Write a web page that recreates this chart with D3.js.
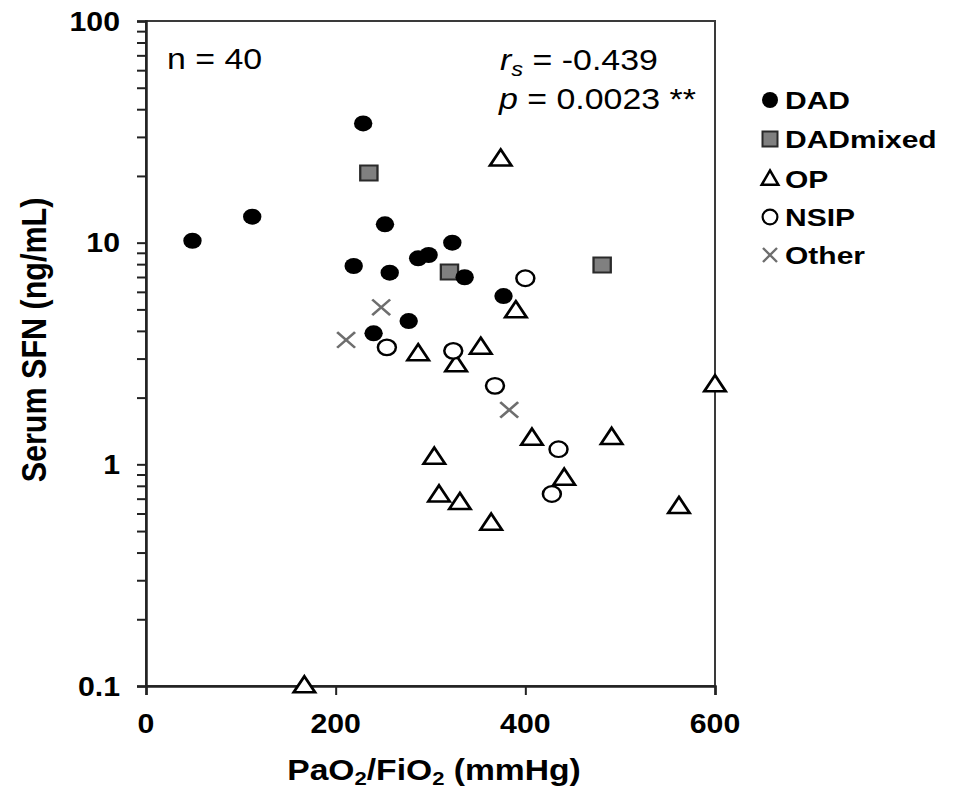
<!DOCTYPE html>
<html>
<head>
<meta charset="utf-8">
<script src="https://cdn.jsdelivr.net/npm/d3@7"></script>
<style>
  html, body { margin: 0; padding: 0; background: #fff; }
  svg { display: block; }
  text { font-family: "Liberation Sans", Arial, sans-serif; fill: #000; }
</style>
</head>
<body>
<svg id="chart" width="955" height="792"></svg>
<script>
// ---- data ----
const dadX = [49, 112, 229, 252, 323, 219, 257, 287, 298, 336, 377, 277, 240];
const dadY = [10.2, 13.1, 34.5, 12.1, 10.0, 7.85, 7.32, 8.5, 8.8, 6.98, 5.74, 4.43, 3.9];
const dadMixedX = [235, 320, 481];
const dadMixedY = [20.6, 7.38, 7.93];
const opX = [374, 390, 287, 353, 327, 600, 407, 491, 304, 441, 309, 331, 562, 364, 167];
const opY = [23.8, 4.92, 3.15, 3.37, 2.81, 2.28, 1.31, 1.32, 1.076, 0.865, 0.727, 0.671, 0.644, 0.542, 0.1];
const nsipX = [400, 254, 324, 368, 435, 428];
const nsipY = [6.91, 3.37, 3.25, 2.26, 1.17, 0.735];
const otherX = [248, 211, 383];
const otherY = [5.11, 3.64, 1.76];

const xTicks = [0, 200, 400, 600];
const yTicks = [0.1, 1, 10, 100];
const yTickLabels = ["0.1", "1", "10", "100"];
const legendNames = ["DAD", "DADmixed", "OP", "NSIP", "Other"];

// ---- layout ----
const svg = d3.select("#chart");
const L = 146, R = 715, T = 21, B = 686;
const SX = 1.15; // horizontal stretch of the original image

const x = d3.scaleLinear().domain([0, 600]).range([L, R]);
const y = d3.scaleLog().domain([0.1, 100]).range([B, T]);

function stext(parent, tx, ty, sx, opts) {
  const g = parent.append("g").attr("transform", `translate(${tx},${ty}) scale(${sx},1)${opts.rotate ? " rotate(" + opts.rotate + ")" : ""}`);
  const t = g.append("text")
    .attr("x", 0).attr("y", 0)
    .attr("font-size", opts.size)
    .attr("font-weight", opts.weight || "normal")
    .attr("text-anchor", opts.anchor || "start");
  if (opts.dy) t.attr("dy", opts.dy);
  return t;
}

// frame
svg.append("rect")
  .attr("x", L).attr("y", T).attr("width", R - L).attr("height", B - T)
  .attr("fill", "none").attr("stroke", "#3a3a3a").attr("stroke-width", 2);

// y axis with log minor ticks
const yMinor = [];
[0.1, 1, 10].forEach(d => { for (let k = 2; k <= 9; k++) yMinor.push(d * k); });
const yAxis = d3.axisLeft(y).tickValues(yTicks.concat(yMinor)).tickSize(9).tickFormat("");
const gy = svg.append("g").attr("transform", `translate(${L},0)`).call(yAxis);
gy.select(".domain").attr("stroke", "#222").attr("stroke-width", 2.5);
gy.selectAll(".tick line").attr("stroke", "#222").attr("stroke-width", 2);

yTicks.forEach((v, i) => {
  stext(svg, 120, y(v), 1.08, {size: 28, weight: "bold", anchor: "end", dy: "0.35em"}).text(yTickLabels[i]);
});

// x axis
const xAxis = d3.axisBottom(x).tickValues(xTicks).tickSize(9).tickFormat("");
const gx = svg.append("g").attr("transform", `translate(0,${B})`).call(xAxis);
gx.select(".domain").attr("stroke", "#222").attr("stroke-width", 2.5);
gx.selectAll(".tick line").attr("stroke", "#222").attr("stroke-width", 2);
xTicks.forEach(v => {
  stext(svg, x(v), 733, 1.08, {size: 28, weight: "bold", anchor: "middle"}).text(String(v));
});

// axis titles
const xt = stext(svg, 434, 780, 1.16, {size: 29, weight: "bold", anchor: "middle"});
xt.append("tspan").text("PaO");
xt.append("tspan").attr("font-size", 19).attr("dy", 5).text("2");
xt.append("tspan").attr("dy", -5).text("/FiO");
xt.append("tspan").attr("font-size", 19).attr("dy", 5).text("2");
xt.append("tspan").attr("dy", -5).text(" (mmHg)");

stext(svg, 46, 340, SX, {size: 30.5, weight: "bold", anchor: "middle", rotate: -90}).text("Serum SFN (ng/mL)");

// annotations
stext(svg, 167, 69, 1.13, {size: 30}).text("n = 40");
const rs = stext(svg, 500, 70, 1.13, {size: 30});
rs.append("tspan").attr("font-style", "italic").text("r");
rs.append("tspan").attr("font-style", "italic").attr("font-size", 21).attr("dy", 6).text("s");
rs.append("tspan").attr("dy", -6).text(" = -0.439");
const pv = stext(svg, 499, 109, 1.13, {size: 30});
pv.append("tspan").attr("font-style", "italic").text("p");
pv.append("tspan").text(" = 0.0023 **");

// ---- markers ----
const sym = {
  DAD: {type: d3.symbolCircle, size: Math.PI * 8 * 8, fill: "#000", stroke: "#000", sw: 0},
  DADmixed: {type: d3.symbolSquare, size: 15 * 15, fill: "#808080", stroke: "#2a2a2a", sw: 2},
  OP: {type: d3.symbolTriangle, size: 150, fill: "#fff", stroke: "#000", sw: 2.5},
  NSIP: {type: d3.symbolCircle, size: Math.PI * 7.8 * 7.8, fill: "#fff", stroke: "#000", sw: 2.2},
  Other: {type: d3.symbolX, size: 160, fill: "none", stroke: "#6e6e6e", sw: 2.4}
};

function drawSeries(name, xs, ys) {
  const s = sym[name];
  const pts = xs.map((v, i) => ({x: v, y: ys[i]}));
  const gen = d3.symbol().type(s.type).size(s.size);
  svg.append("g").attr("class", "series-" + name)
    .selectAll("path").data(pts).join("path")
    .attr("d", gen)
    .attr("transform", d => `translate(${x(d.x)},${y(d.y)}) scale(${SX},1)${name === "OP" ? " translate(0,1)" : ""}`)
    .attr("fill", s.fill)
    .attr("stroke", s.stroke)
    .attr("stroke-width", s.sw)
    .attr("stroke-linejoin", "miter");
}

drawSeries("DADmixed", dadMixedX, dadMixedY);
drawSeries("DAD", dadX, dadY);
drawSeries("OP", opX, opY);
drawSeries("NSIP", nsipX, nsipY);
drawSeries("Other", otherX, otherY);

// ---- legend ----
const legY = [100, 139, 179, 217, 255];
const legSize = {DAD: Math.PI * 8 * 8, DADmixed: 15 * 15, OP: 120, NSIP: Math.PI * 7.4 * 7.4, Other: 130};
legendNames.forEach((name, i) => {
  const s = sym[name];
  svg.append("path")
    .attr("d", d3.symbol().type(s.type).size(legSize[name])())
    .attr("transform", `translate(770,${legY[i]})${name === "OP" ? " translate(0,1)" : ""}`)
    .attr("fill", s.fill).attr("stroke", s.stroke).attr("stroke-width", s.sw);
  stext(svg, 785, legY[i] + 9, 1.25, {size: 24, weight: "bold"}).text(name);
});
</script>
</body>
</html>
